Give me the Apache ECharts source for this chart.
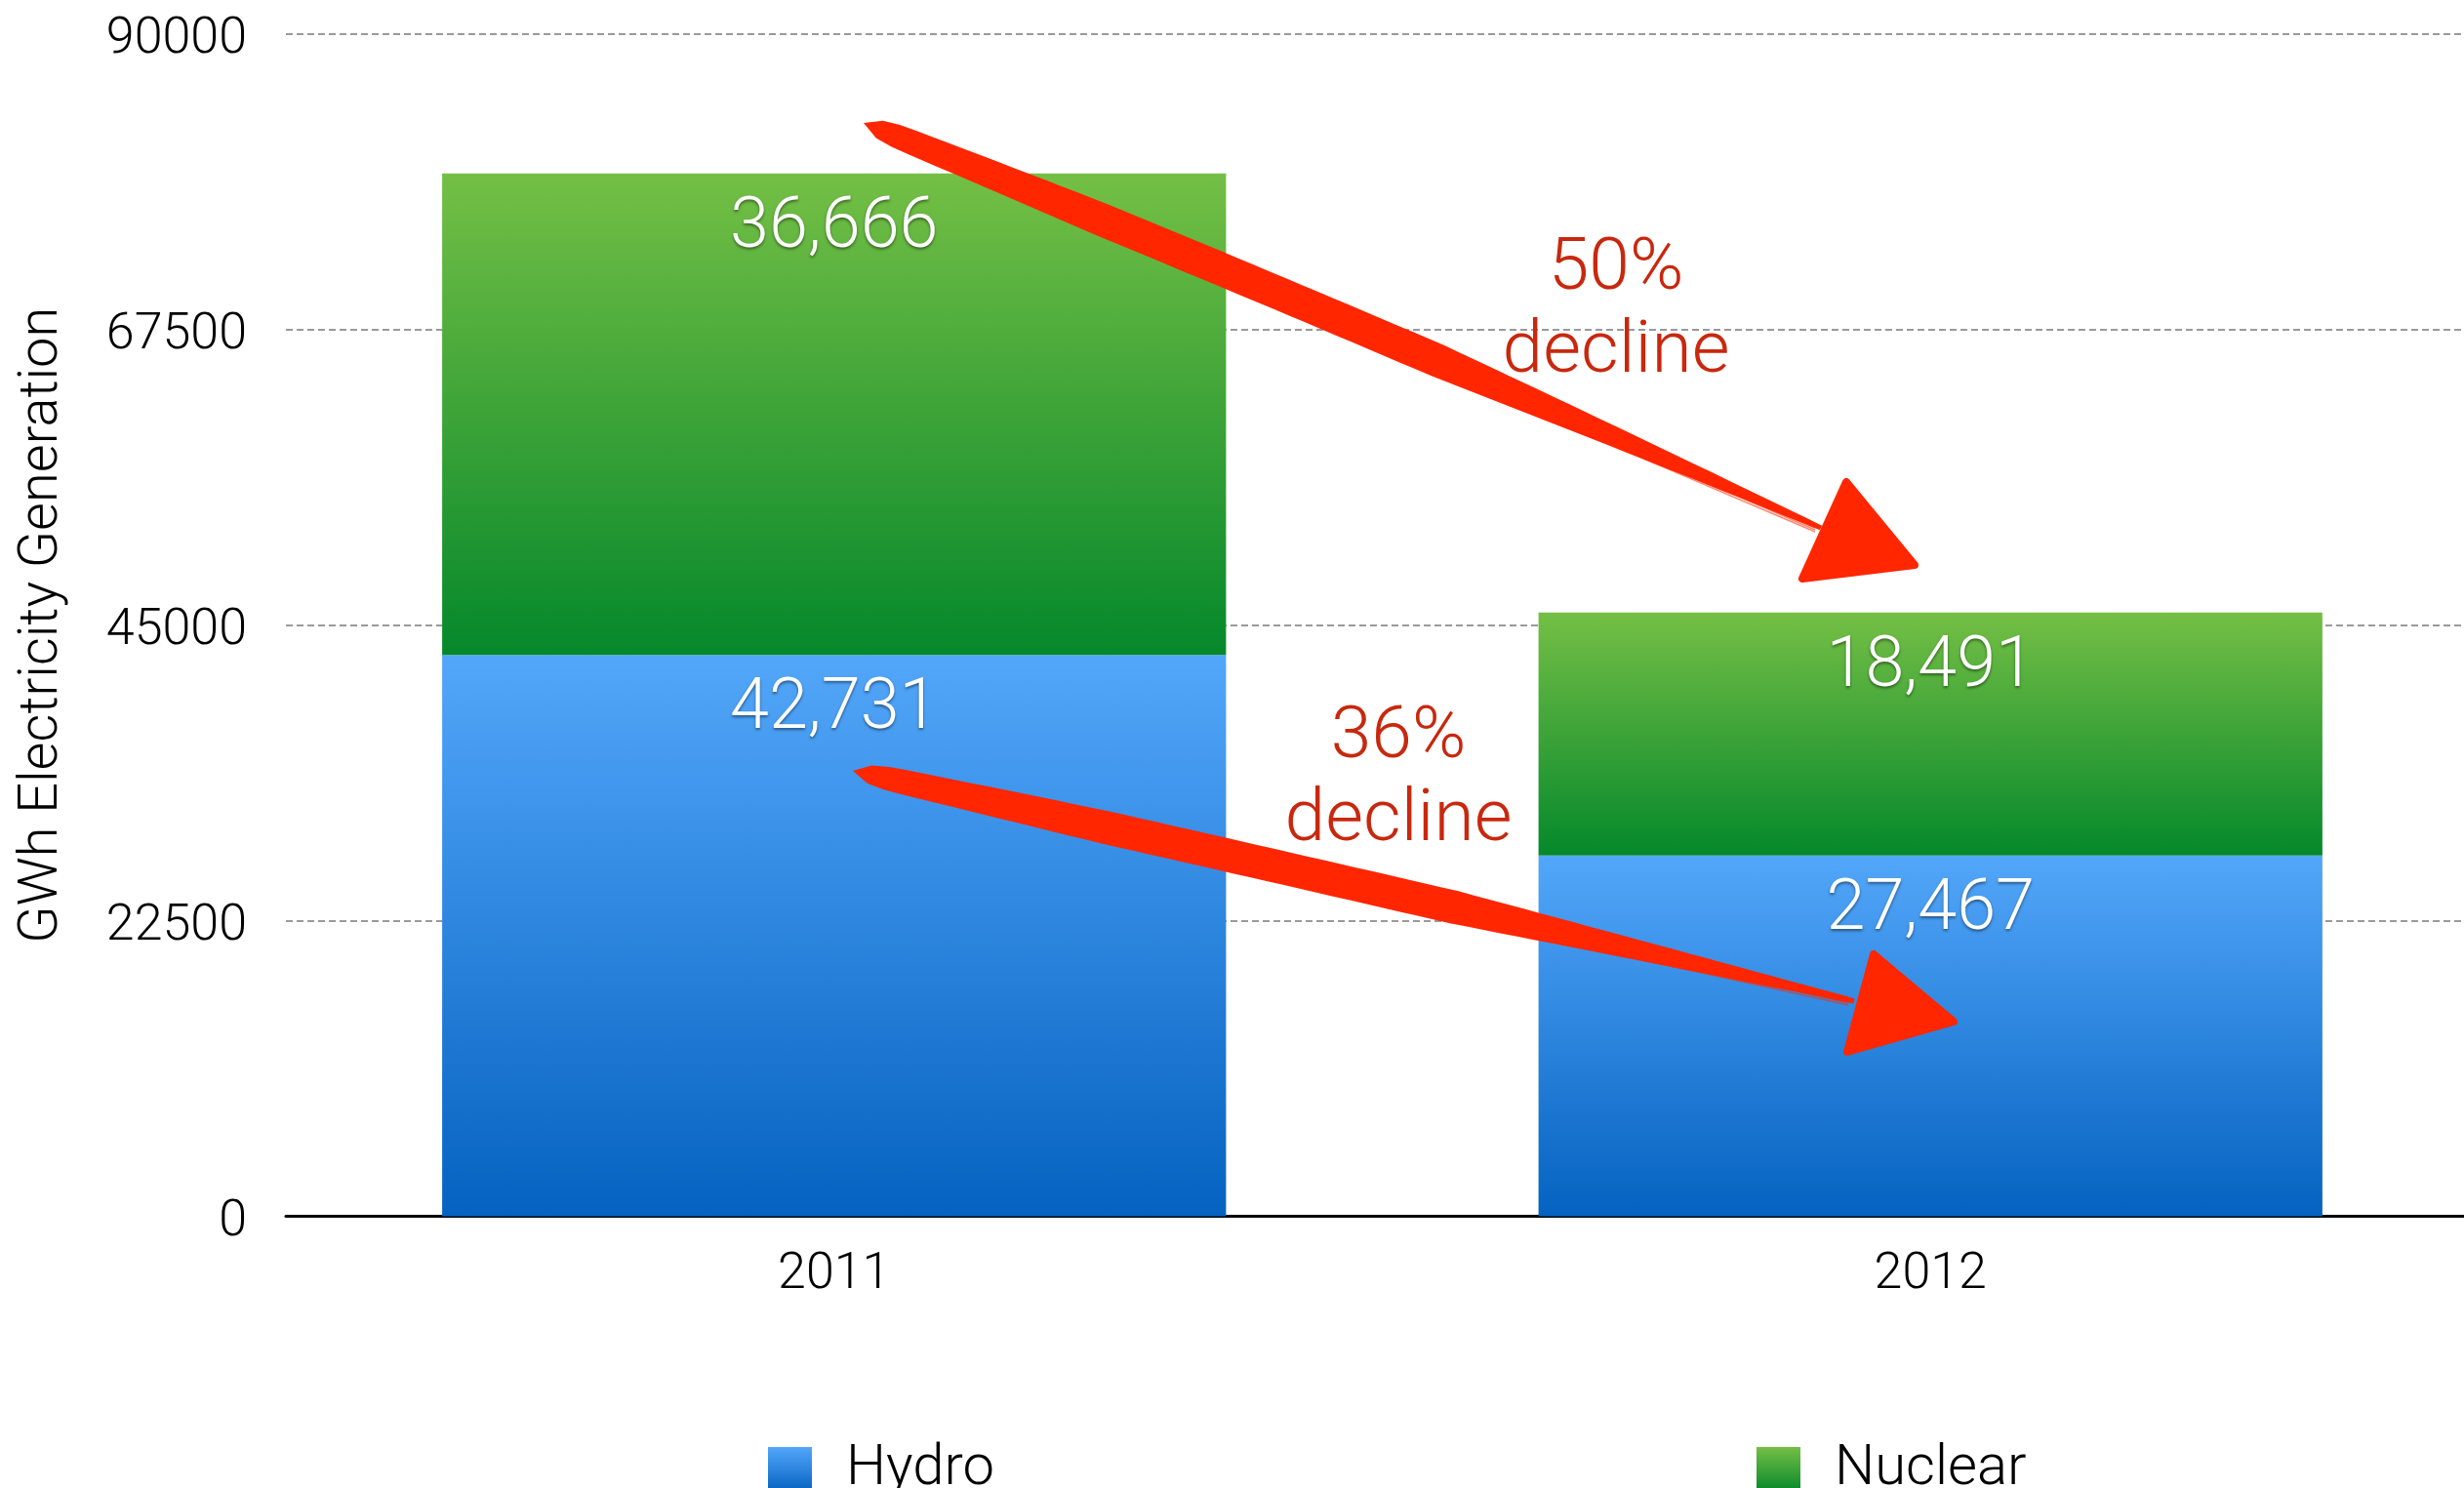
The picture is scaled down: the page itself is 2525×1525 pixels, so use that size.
<!DOCTYPE html>
<html>
<head>
<meta charset="utf-8">
<title>GWh Electricity Generation</title>
<script src="https://cdn.jsdelivr.net/npm/echarts@6/dist/echarts.min.js"></script>
<style>
  html, body { margin: 0; padding: 0; background: #ffffff; }
  #chart { width: 2525px; height: 1525px; }
</style>
</head>
<body>
<div id="chart"></div>
<script>
// Generation by source, GWh
const categories = ['2011', '2012'];
const hydro = [42731, 27467];
const nuclear = [36666, 18491];

// Value axis range
const yMin = 0;
const yMax = 90000;
const yStep = 22500;

// Callout texts
const notes = ['50%\ndecline', '36%\ndecline'];

const FONT = 'Roboto, "Liberation Sans", sans-serif';

const blueFill = new echarts.graphic.LinearGradient(0, 0, 0, 1, [
  { offset: 0, color: '#53a7fa' },
  { offset: 1, color: '#0562c0' }
]);
const greenFill = new echarts.graphic.LinearGradient(0, 0, 0, 1, [
  { offset: 0, color: '#74bf45' },
  { offset: 1, color: '#05882b' }
]);

const valueLabel = {
  show: true,
  position: 'insideTop',
  distance: 21,
  color: '#ffffff',
  fontFamily: FONT,
  fontWeight: 300,
  fontSize: 72,
  textShadowColor: 'rgba(0,0,0,0.45)',
  textShadowBlur: 3,
  textShadowOffsetY: 2,
  formatter: p => Number(p.value).toLocaleString('en-US')
};

// Tapered brush stroke from S to E plus a triangular head
function brushArrow(S, E, bow, maxW, head) {
  const N = 60;
  const C = [(S[0] + E[0]) / 2, (S[1] + E[1]) / 2 + bow];
  const center = t => [
    (1 - t) * (1 - t) * S[0] + 2 * t * (1 - t) * C[0] + t * t * E[0],
    (1 - t) * (1 - t) * S[1] + 2 * t * (1 - t) * C[1] + t * t * E[1]
  ];
  const width = t => {
    const cap = 0.05;
    if (t < cap) {
      const u = 1 - t / cap;
      return maxW * 0.75 * Math.sqrt(Math.max(0, 1 - u * u));
    }
    if (t < 0.25) return maxW * (0.75 + 0.25 * (t - cap) / (0.25 - cap));
    if (t < 0.6) return maxW;
    return maxW * (1 - 0.85 * (t - 0.6) / 0.4);
  };
  const left = [], right = [];
  for (let i = 0; i <= N; i++) {
    const t = i / N;
    const p = center(t);
    const q = center(Math.min(1, t + 0.001));
    const r = center(Math.max(0, t - 0.001));
    let dx = q[0] - r[0], dy = q[1] - r[1];
    const len = Math.hypot(dx, dy) || 1;
    dx /= len; dy /= len;
    const w = width(t) / 2;
    left.push([p[0] - dy * w, p[1] + dx * w]);
    right.push([p[0] + dy * w, p[1] - dx * w]);
  }
  const body = left.concat(right.reverse());
  const els = [{
    type: 'polygon',
    shape: { points: body },
    style: { fill: '#ff2600' },
    z: 100
  }];
  // feathered strands near the tail
  for (let k = -2; k <= 2; k++) {
    const a = center(0.7), b = center(1);
    els.push({
      type: 'line',
      shape: { x1: a[0], y1: a[1] + k * 5, x2: b[0] - 6, y2: b[1] + k * 2 },
      style: { stroke: 'rgba(255,38,0,0.55)', lineWidth: 1.5 },
      z: 100
    });
  }
  els.push({
    type: 'polygon',
    shape: { points: head },
    style: { fill: '#ff2600', stroke: '#ff2600', lineWidth: 8, lineJoin: 'round' },
    z: 101
  });
  return els;
}

const chart = echarts.init(document.getElementById('chart'), null, { renderer: 'canvas' });

const legendText = { fontFamily: FONT, fontWeight: 300, fontSize: 58, color: '#000', padding: [0, 0, 0, 30] };

const option = {
  backgroundColor: '#ffffff',
  animation: false,
  textStyle: { fontFamily: FONT, fontWeight: 300 },
  grid: {
    left: 293,
    top: 35,
    width: 2247,
    height: 1211.5,
    containLabel: false,
    outerBoundsMode: 'none'
  },
  legend: [
    {
      data: ['Hydro'],
      left: 782,
      top: 1472,
      icon: 'rect',
      itemWidth: 45,
      itemHeight: 46,
      textStyle: legendText
    },
    {
      data: ['Nuclear'],
      left: 1795,
      top: 1472,
      icon: 'rect',
      itemWidth: 45,
      itemHeight: 46,
      textStyle: legendText
    }
  ],
  xAxis: {
    type: 'category',
    data: categories,
    axisLine: { show: true, lineStyle: { color: '#000', width: 3 } },
    axisTick: { show: false },
    axisLabel: { margin: 34, fontSize: 52, color: '#000', fontFamily: FONT, fontWeight: 300 }
  },
  yAxis: {
    type: 'value',
    min: yMin,
    max: yMax,
    interval: yStep,
    name: 'GWh Electricity Generation',
    nameLocation: 'middle',
    nameGap: 221,
    nameTextStyle: { fontSize: 56, color: '#000', fontFamily: FONT, fontWeight: 300 },
    axisLine: { show: false },
    axisTick: { show: false },
    axisLabel: {
      margin: 40, fontSize: 52, color: '#000', fontFamily: FONT, fontWeight: 300,
      formatter: v => '{t|' + v + '}',
      rich: {
        t: { fontSize: 52, color: '#000', fontFamily: FONT, fontWeight: 300, padding: [12, 0, 0, 0] }
      }
    },
    splitLine: { show: true, lineStyle: { color: '#9a9a9a', width: 2, type: [7, 4] } }
  },
  series: [
    {
      name: 'Hydro',
      type: 'bar',
      stack: 'gen',
      data: hydro,
      barWidth: '71.5%',
      itemStyle: { color: blueFill },
      label: valueLabel
    },
    {
      name: 'Nuclear',
      type: 'bar',
      stack: 'gen',
      data: nuclear,
      barWidth: '71.5%',
      itemStyle: { color: greenFill },
      label: valueLabel
    }
  ]
};

chart.setOption(option);

// Callout arrows and texts drawn over the bars
const noteStyle = {
  fill: '#c8280e',
  fontFamily: FONT,
  fontWeight: 300,
  fontSize: 75,
  lineHeight: 85,
  align: 'center',
  textAlign: 'center',
  verticalAlign: 'top'
};

const graphics = []
  .concat(brushArrow([885, 126], [1866, 541], -11, 34,
    [[1892, 494], [1847, 593], [1962, 579]]))
  .concat(brushArrow([874, 790], [1900, 1026], -4, 34,
    [[1920, 978], [1893, 1078], [2002, 1047]]))
  .concat([
    { type: 'text', z: 102, style: Object.assign({ text: notes[0], x: 1656, y: 235 }, noteStyle) },
    { type: 'text', z: 102, style: Object.assign({ text: notes[1], x: 1433, y: 715 }, noteStyle) }
  ]);

chart.setOption({ graphic: { elements: graphics } });
</script>
</body>
</html>
